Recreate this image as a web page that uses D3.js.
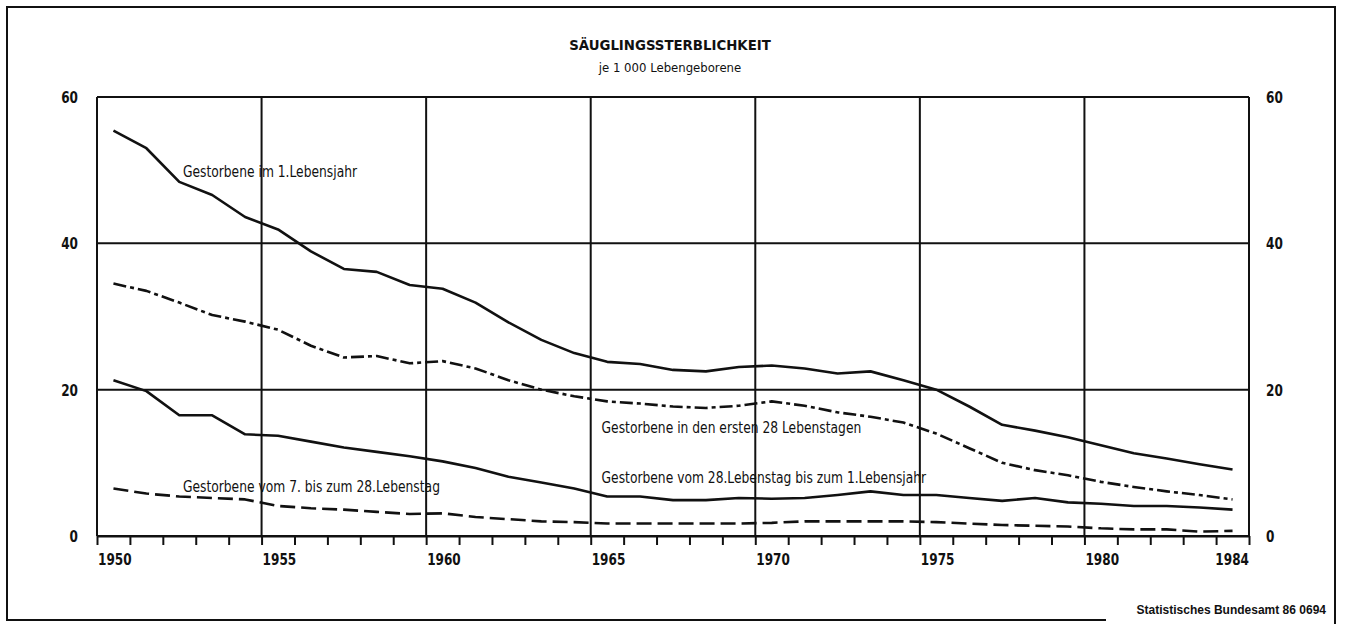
<!DOCTYPE html>
<html>
<head>
<meta charset="utf-8">
<script src="https://cdn.jsdelivr.net/npm/d3@7"></script>
<style>
  body { margin: 0; background: #fff; }
  svg { display: block; }
  .lbl { font-family: "Liberation Sans Narrow", "DejaVu Sans Condensed", sans-serif; font-size: 16px; fill: #111; }
  .tick-lbl { font-family: "DejaVu Sans Condensed", sans-serif; font-size: 16px; font-weight: bold; fill: #111; }
</style>
</head>
<body>
<div id="chart"></div>
<script>
// years (each value is plotted in the middle of its year)
const years = [1950, 1951, 1952, 1953, 1954, 1955, 1956, 1957, 1958, 1959,
  1960, 1961, 1962, 1963, 1964, 1965, 1966, 1967, 1968, 1969,
  1970, 1971, 1972, 1973, 1974, 1975, 1976, 1977, 1978, 1979,
  1980, 1981, 1982, 1983, 1984];

// Gestorbene im 1. Lebensjahr
const firstYear = [55.4, 53.0, 48.4, 46.6, 43.6, 41.9, 38.9, 36.5, 36.1, 34.3,
  33.8, 31.9, 29.2, 26.8, 25.0, 23.8, 23.5, 22.7, 22.5, 23.1,
  23.3, 22.9, 22.2, 22.5, 21.3, 20.0, 17.7, 15.2, 14.4, 13.5,
  12.4, 11.3, 10.6, 9.8, 9.1];

// Gestorbene in den ersten 28 Lebenstagen
const first28Days = [34.5, 33.5, 31.9, 30.2, 29.3, 28.2, 26.0, 24.4, 24.6, 23.6,
  23.9, 22.9, 21.3, 20.0, 19.1, 18.4, 18.1, 17.7, 17.5, 17.8,
  18.4, 17.8, 16.9, 16.3, 15.5, 14.0, 12.0, 10.0, 9.0, 8.3,
  7.4, 6.7, 6.1, 5.6, 5.0];

// Gestorbene vom 28. Lebenstag bis zum 1. Lebensjahr
const day28ToYear = [21.3, 19.8, 16.5, 16.5, 13.9, 13.7, 12.9, 12.1, 11.5, 10.9,
  10.2, 9.3, 8.1, 7.3, 6.5, 5.4, 5.4, 4.9, 4.9, 5.2,
  5.1, 5.2, 5.6, 6.1, 5.6, 5.6, 5.2, 4.8, 5.2, 4.6,
  4.4, 4.1, 4.1, 3.9, 3.6];

// Gestorbene vom 7. bis zum 28. Lebenstag
const day7To28 = [6.5, 5.8, 5.4, 5.2, 5.0, 4.1, 3.8, 3.6, 3.3, 3.0,
  3.1, 2.6, 2.3, 2.0, 1.9, 1.7, 1.7, 1.7, 1.7, 1.7,
  1.8, 2.0, 2.0, 2.0, 2.0, 1.9, 1.7, 1.5, 1.4, 1.3,
  1.05, 0.9, 0.9, 0.6, 0.7];

const yTicks = [0, 20, 40, 60];
const xTickYears = [1950, 1951, 1952, 1953, 1954, 1955, 1956, 1957, 1958, 1959,
  1960, 1961, 1962, 1963, 1964, 1965, 1966, 1967, 1968, 1969,
  1970, 1971, 1972, 1973, 1974, 1975, 1976, 1977, 1978, 1979,
  1980, 1981, 1982, 1983, 1984, 1985];
const xLabels = ["1950", "1955", "1960", "1965", "1970", "1975", "1980"];
const gridYears = [1955, 1960, 1965, 1970, 1975, 1980];

const seriesNames = [
  "Gestorbene im 1.Lebensjahr",
  "Gestorbene in den ersten 28 Lebenstagen",
  "Gestorbene vom 28.Lebenstag bis zum 1.Lebensjahr",
  "Gestorbene vom 7. bis zum 28.Lebenstag"
];

const W = 1346, H = 624;
const plot = { left: 97, right: 1249, top: 97, bottom: 536 };

const svg = d3.select("#chart").append("svg")
  .attr("width", W)
  .attr("height", H);

svg.append("rect").attr("width", W).attr("height", H).attr("fill", "#fff");

// the print font is very narrow, so text gets squeezed horizontally
function place(sel, fx, fy, sx) {
  sel.attr("transform", (d, i) => "translate(" + fx(d, i) + "," + fy(d, i) + ") scale(" + sx + ",1)");
}

// outer frame (bottom line stops before the source note)
const frame = svg.append("g").attr("stroke", "#111").attr("stroke-width", 2).attr("fill", "none");
frame.append("path").attr("d", "M1106,620 H7 V7 H1335 V624");

const x = d3.scaleLinear().domain([1950, 1985]).range([plot.left, plot.right]);
const y = d3.scaleLinear().domain([0, 60]).range([plot.bottom, plot.top]);

// title
svg.append("text")
  .attr("x", 670).attr("y", 50)
  .attr("text-anchor", "middle")
  .style("font-family", "'DejaVu Sans Condensed', sans-serif")
  .style("font-weight", "bold")
  .style("font-size", "14.8px")
  .attr("fill", "#111")
  .text("SÄUGLINGSSTERBLICHKEIT");

svg.append("text")
  .attr("x", 670).attr("y", 72)
  .attr("text-anchor", "middle")
  .style("font-family", "'DejaVu Sans Condensed', sans-serif")
  .style("font-size", "13px")
  .attr("fill", "#111")
  .text("je 1 000 Lebengeborene");

// grid
const grid = svg.append("g").attr("stroke", "#111").attr("stroke-width", 2);
grid.selectAll("line.h")
  .data(yTicks)
  .join("line")
  .attr("class", "h")
  .attr("x1", plot.left).attr("x2", plot.right)
  .attr("y1", d => y(d)).attr("y2", d => y(d));
grid.selectAll("line.v")
  .data(gridYears)
  .join("line")
  .attr("class", "v")
  .attr("x1", d => x(d)).attr("x2", d => x(d))
  .attr("y1", y(60)).attr("y2", y(0));
grid.append("line")
  .attr("x1", plot.left).attr("x2", plot.left)
  .attr("y1", y(60)).attr("y2", y(0));
grid.append("line")
  .attr("x1", plot.right).attr("x2", plot.right)
  .attr("y1", y(60)).attr("y2", y(0));

// x axis ticks
const xAxis = d3.axisBottom(x)
  .tickValues(xTickYears)
  .tickSize(9)
  .tickSizeOuter(0)
  .tickFormat("");
const xg = svg.append("g")
  .attr("transform", "translate(0," + plot.bottom + ")")
  .call(xAxis);
xg.select(".domain").attr("stroke", "#111").attr("stroke-width", 2);
xg.selectAll(".tick line").attr("stroke", "#111").attr("stroke-width", 2);

const tickSx = 0.84;
svg.append("g").selectAll("text")
  .data(xLabels)
  .join("text")
  .attr("class", "tick-lbl")
  .call(place, d => x(+d) + 1, () => 565, tickSx)
  .text(d => d);
svg.append("text")
  .attr("class", "tick-lbl")
  .attr("text-anchor", "end")
  .call(place, () => x(1985), () => 565, tickSx)
  .text("1984");

// y labels both sides
svg.append("g").selectAll("text")
  .data(yTicks)
  .join("text")
  .attr("class", "tick-lbl")
  .attr("text-anchor", "end")
  .call(place, () => plot.left - 19, d => y(d) + 6, tickSx)
  .text(d => d);
svg.append("g").selectAll("text")
  .data(yTicks)
  .join("text")
  .attr("class", "tick-lbl")
  .call(place, () => plot.right + 17, d => y(d) + 6, tickSx)
  .text(d => d);

// series
const line = d3.line()
  .x((d, i) => x(years[i] + 0.5))
  .y(d => y(d));

const series = [
  { values: firstYear, dash: null },
  { values: first28Days, dash: "13,4,4,4" },
  { values: day28ToYear, dash: null },
  { values: day7To28, dash: "15,6" }
];

svg.append("g").selectAll("path")
  .data(series)
  .join("path")
  .attr("fill", "none")
  .attr("stroke", "#111")
  .attr("stroke-width", 2.6)
  .attr("stroke-linejoin", "round")
  .attr("stroke-dasharray", d => d.dash)
  .attr("d", d => line(d.values));

// series labels, anchored in data units
const labelAt = [
  { year: 1952.61, value: 49.1 },
  { year: 1965.33, value: 14.1 },
  { year: 1965.33, value: 7.2 },
  { year: 1952.61, value: 6.05 }
];
svg.append("g").selectAll("text")
  .data(seriesNames)
  .join("text")
  .attr("class", "lbl")
  .call(place, (d, i) => x(labelAt[i].year), (d, i) => y(labelAt[i].value), 0.855)
  .text(d => d);

// source
svg.append("text")
  .attr("x", 1326).attr("y", 614)
  .attr("text-anchor", "end")
  .style("font-family", "'Liberation Sans', sans-serif")
  .style("font-weight", "bold")
  .style("font-size", "12px")
  .attr("fill", "#111")
  .text("Statistisches Bundesamt 86 0694");
</script>
</body>
</html>
